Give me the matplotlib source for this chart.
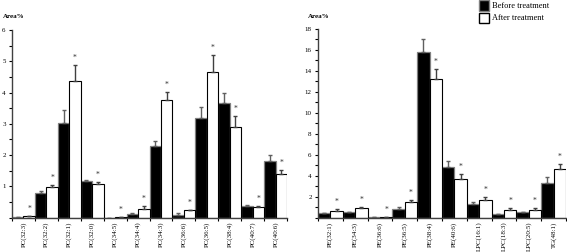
import matplotlib
matplotlib.use('Agg')
import matplotlib.pyplot as plt
from matplotlib.patches import Patch
import numpy as np

plt.rcParams['font.family'] = ['Liberation Serif', 'DejaVu Serif']

pc_labels = ['PC(32:3)', 'PC(32:2)', 'PC(32:1)', 'PC(32:0)', 'PC(34:5)', 'PC(34:4)',
             'PC(34:3)', 'PC(36:6)', 'PC(36:5)', 'PC(38:4)', 'PC(40:7)', 'PC(40:6)']
pc_before = [0.02, 0.79, 3.04, 1.18, 0.005, 0.13, 2.28, 0.10, 3.20, 3.66, 0.37, 1.82]
pc_before_err = [0.01, 0.06, 0.41, 0.04, 0.0, 0.01, 0.16, 0.04, 0.33, 0.33, 0.05, 0.20]
pc_after = [0.04, 0.97, 4.38, 1.07, 0.02, 0.28, 3.75, 0.24, 4.67, 2.90, 0.33, 1.39]
pc_after_err = [0.02, 0.07, 0.50, 0.07, 0.01, 0.08, 0.28, 0.02, 0.53, 0.35, 0.04, 0.13]

pe_labels = ['PE(32:1)', 'PE(34:3)', 'PE(36:6)', 'PE(36:5)', 'PE(38:4)', 'PE(40:6)',
             'LPC(16:1)', 'LPC(18:3)', 'LPC(20:5)', 'TG(48:1)']
pe_before = [0.41, 0.54, 0.10, 0.83, 15.75, 4.86, 1.33, 0.35, 0.54, 3.33]
pe_before_err = [0.03, 0.04, 0.01, 0.15, 1.25, 0.57, 0.13, 0.03, 0.04, 0.51]
pe_after = [0.67, 0.89, 0.08, 1.49, 13.2, 3.65, 1.71, 0.76, 0.76, 4.67]
pe_after_err = [0.16, 0.09, 0.02, 0.19, 1.0, 0.48, 0.29, 0.13, 0.13, 0.41]

W, H = 567, 252
fig = plt.figure(figsize=(W / 100, H / 100), dpi=100)

ax1 = fig.add_axes([12 / W, 34.3 / H, 275 / W, 187.7 / H])
ax2 = fig.add_axes([318 / W, 34.3 / H, 248 / W, 189 / H])


def draw(ax, labels, before, berr, after, aerr, ymax, major, star_off):
    n = len(labels)
    x = np.arange(n)
    w = 0.5
    ax.bar(x - w / 2, before, w, color='black', edgecolor='#808080', linewidth=0.9,
           yerr=[np.zeros(n), berr], error_kw=dict(ecolor='#606060', elinewidth=1.0,
                                                    capsize=1.5, capthick=1.0))
    ax.bar(x + w / 2, after, w, color='white', edgecolor='black', linewidth=0.8,
           yerr=[np.zeros(n), aerr], error_kw=dict(ecolor='#404040', elinewidth=1.0,
                                                    capsize=1.5, capthick=1.0))
    for i in range(n):
        ax.text(x[i] + w / 2, after[i] + aerr[i] + star_off, '*', ha='center',
                va='bottom', fontsize=5.5, color='#333333')
    ax.set_xlim(-0.5, n - 0.5)
    ax.set_ylim(0, ymax)
    ax.set_xticks(x)
    ax.set_xticklabels(labels, rotation=90, fontsize=5)
    ax.set_xticks(np.arange(n + 1) - 0.5, minor=True)
    ticks = np.arange(0, ymax + 0.01, major)
    ax.set_yticks(ticks)
    ax.set_yticklabels([''] + ['%g' % t for t in ticks[1:]], fontsize=5)
    ax.set_yticks(np.arange(0, ymax + 0.01, major / 2), minor=True)
    ax.tick_params(axis='x', which='major', length=0, pad=3)
    ax.tick_params(axis='x', which='minor', length=2, width=0.8)
    ax.tick_params(axis='y', which='both', length=2.5, width=0.8, pad=2)
    for s in ['top', 'right']:
        ax.spines[s].set_visible(False)
    for s in ['left', 'bottom']:
        ax.spines[s].set_linewidth(1.0)
        ax.spines[s].set_color('#404040')


draw(ax1, pc_labels, pc_before, pc_before_err, pc_after, pc_after_err, 6, 1, 0.1)
draw(ax2, pe_labels, pe_before, pe_before_err, pe_after, pe_after_err, 18, 2, 0.3)

fig.text(3 / W, 1 - 17 / H, 'Area%', fontsize=5, fontweight='bold', va='center')
fig.text(308 / W, 1 - 16 / H, 'Area%', fontsize=5, fontweight='bold', va='center')

handles = [Patch(facecolor='black', edgecolor='#808080', label='Before treatment'),
           Patch(facecolor='white', edgecolor='black', label='After treatment')]
fig.legend(handles=handles, loc='upper left', bbox_to_anchor=(476 / W, 1 + 3 / H),
           frameon=False, fontsize=6, handlelength=1.2, handleheight=1.5,
           handletextpad=0.3, labelspacing=0.25, borderaxespad=0)

fig.savefig('out.png', dpi=100)
